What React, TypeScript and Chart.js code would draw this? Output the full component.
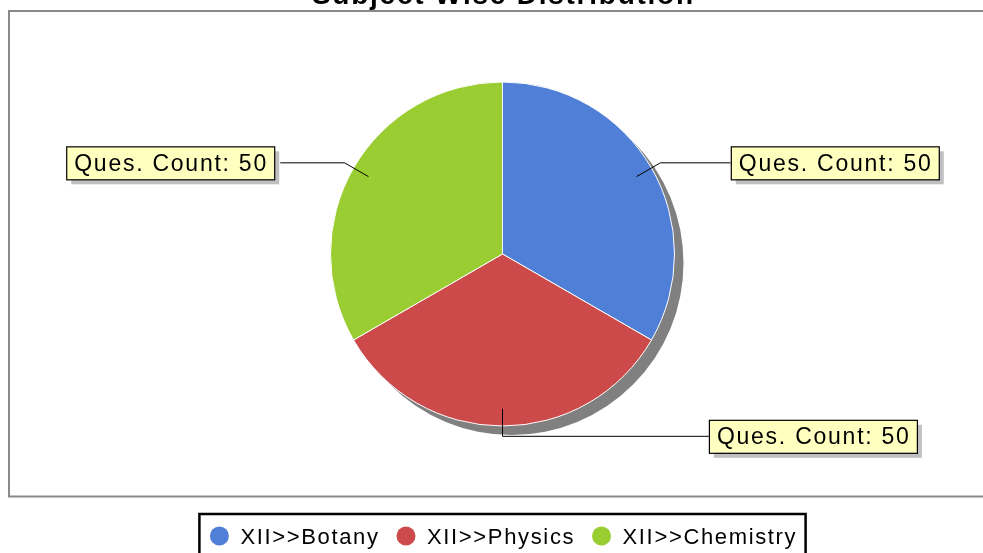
import React, { useEffect, useRef } from "react";
import { Chart, registerables } from "chart.js";

Chart.register(...registerables);

const TITLE = "Subject Wise Distribution";
const categories = ["XII>>Botany", "XII>>Physics", "XII>>Chemistry"];
const quesCounts = [50, 50, 50];
const sliceColors = ["#4f7fd6", "#cc4a4a", "#9acd32"];
const LABEL_PREFIX = "Ques. Count: ";

const FONT = '"Liberation Sans", Arial, sans-serif';

function spacedWidth(ctx: CanvasRenderingContext2D, text: string, spacing: number) {
  let w = 0;
  for (let i = 0; i < text.length; i++) {
    w += ctx.measureText(text[i]).width;
    if (i < text.length - 1) w += spacing;
  }
  return w;
}

function drawSpaced(ctx: CanvasRenderingContext2D, text: string, x: number, y: number, spacing: number) {
  let cx = x;
  ctx.textAlign = "left";
  for (let i = 0; i < text.length; i++) {
    ctx.fillText(text[i], cx, y);
    cx += ctx.measureText(text[i]).width + spacing;
  }
}

const decorPlugin = {
  id: "decor",
  beforeDatasetsDraw(chart: any) {
    const ctx: CanvasRenderingContext2D = chart.ctx;
    const meta = chart.getDatasetMeta(0);
    const arc = meta.data[0];
    if (!arc) return;
    const { x, y, outerRadius } = arc.getProps(["x", "y", "outerRadius"], true);
    ctx.save();
    // plot border
    ctx.strokeStyle = "#8a8a8a";
    ctx.lineWidth = 2;
    ctx.strokeRect(9, 11, 1000, 485.5);
    // pie shadow
    ctx.fillStyle = "#808080";
    ctx.beginPath();
    ctx.arc(x + 9, y + 9, outerRadius, 0, Math.PI * 2);
    ctx.fill();
    ctx.restore();
  },
  afterDraw(chart: any) {
    const ctx: CanvasRenderingContext2D = chart.ctx;
    const meta = chart.getDatasetMeta(0);
    const W = chart.width;
    ctx.save();
    // title
    ctx.fillStyle = "#000";
    ctx.font = `bold 28px ${FONT}`;
    ctx.textBaseline = "alphabetic";
    const tsp = 1.75;
    const tw = spacedWidth(ctx, TITLE, tsp);
    const first = meta.data[0];
    const pcx = first ? first.x : W / 2;
    drawSpaced(ctx, TITLE, pcx - tw / 2, 4, tsp);

    // labels
    ctx.font = `23px ${FONT}`;
    const lsp = 1.75;
    meta.data.forEach((el: any, i: number) => {
      const { x, y, startAngle, endAngle, outerRadius } = el.getProps(
        ["x", "y", "startAngle", "endAngle", "outerRadius"],
        true
      );
      const R = outerRadius;
      const mid = (startAngle + endAngle) / 2;
      const c = Math.cos(mid);
      const s = Math.sin(mid);
      const right = c > -1e-6;
      const ax = x + c * R * 0.9;
      const ay = y + s * R * 0.9;
      const ex = x + c * R * 1.06;
      const ey = y + s * R * 1.06;
      const off = R * (1.2 + 0.147 * Math.abs(c));
      const text = LABEL_PREFIX + quesCounts[i];
      const textW = spacedWidth(ctx, text, lsp);
      const bw = textW + 16;
      const bh = 33;
      const bx = right ? x + off : x - off - bw;
      const by = ey - bh / 2;
      // leader line
      ctx.strokeStyle = "#000";
      ctx.lineWidth = 1;
      ctx.beginPath();
      ctx.moveTo(ax, ay);
      ctx.lineTo(ex, ey);
      ctx.lineTo(right ? bx : bx + bw + 6, ey);
      ctx.stroke();
      // box shadow
      ctx.fillStyle = "#c0c0c0";
      ctx.fillRect(bx + 5, by + 5, bw, bh);
      // box
      ctx.fillStyle = "#ffffc0";
      ctx.fillRect(bx, by, bw, bh);
      ctx.strokeStyle = "#000";
      ctx.lineWidth = 1.2;
      ctx.strokeRect(bx + 0.5, by + 0.5, bw, bh);
      ctx.fillStyle = "#000";
      drawSpaced(ctx, text, bx + 8, ey + 8, lsp);
    });

    // legend
    ctx.font = `22px ${FONT}`;
    const sp = 1.65;
    const widths = categories.map((t) => spacedWidth(ctx, t, sp));
    const total =
      20 + widths.reduce((a, w) => a + 21 + w, 0) + 28 * (categories.length - 1) + 10;
    const lx = pcx - total / 2;
    ctx.strokeStyle = "#000";
    ctx.lineWidth = 2.5;
    ctx.strokeRect(lx, 514, total, 60);
    let cxp = lx + 20;
    const cy = 536;
    categories.forEach((t, i) => {
      ctx.fillStyle = sliceColors[i];
      ctx.beginPath();
      ctx.arc(cxp, cy, 9.5, 0, Math.PI * 2);
      ctx.fill();
      ctx.fillStyle = "#000";
      drawSpaced(ctx, t, cxp + 21, 544, sp);
      cxp = cxp + 21 + widths[i] + 28;
    });
    ctx.restore();
  },
};

export default function App() {
  const ref = useRef<HTMLCanvasElement>(null);
  useEffect(() => {
    if (!ref.current) return;
    const chart = new Chart(ref.current, {
      type: "pie",
      data: {
        labels: categories,
        datasets: [
          {
            data: quesCounts,
            backgroundColor: sliceColors,
            borderColor: "#ffffff",
            borderWidth: 1,
          },
        ],
      },
      options: {
        responsive: false,
        animation: false,
        devicePixelRatio: 1,
        layout: { padding: { left: 330, right: 308, top: 81.5, bottom: 126.5 } },
        plugins: {
          legend: { display: false },
          title: { display: false },
          tooltip: { enabled: false },
        },
      },
      plugins: [decorPlugin],
    });
    return () => chart.destroy();
  }, []);
  return (
    <canvas
      ref={ref}
      width={983}
      height={553}
      style={{ position: "fixed", left: 0, top: 0, width: 983, height: 553 }}
    />
  );
}
